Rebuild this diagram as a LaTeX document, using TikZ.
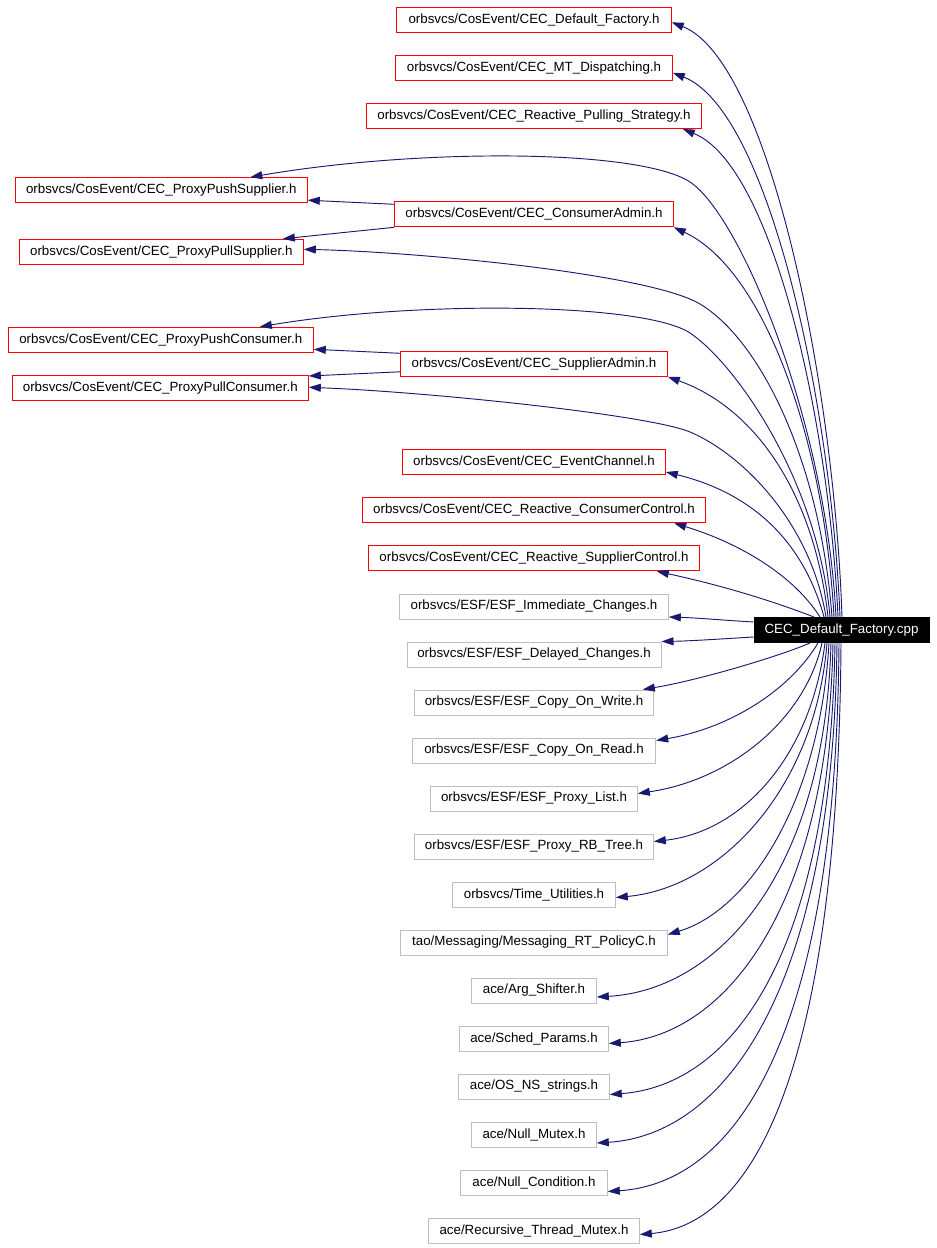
\documentclass[tikz,border=0pt]{standalone}
\usepackage{fontspec}
\setmainfont{Liberation Sans}
\usetikzlibrary{arrows.meta,calc}
\definecolor{edgeblue}{RGB}{25,25,112}
\definecolor{boxred}{RGB}{255,0,0}
\definecolor{boxgray}{RGB}{191,191,191}
\begin{document}
\begin{tikzpicture}[x=0.75pt,y=-0.75pt,
 box/.style={draw, line width=0.75pt, minimum height=18.75pt, inner sep=0pt, font=\fontsize{10}{12}\selectfont, anchor=center},
 redbox/.style={box, draw=boxred},
 graybox/.style={box, draw=boxgray},
 rootbox/.style={box, draw=black, fill=black, text=white},
 bw/.style={minimum width=#1*0.75pt},
 edge/.style={draw=edgeblue, line width=0.7pt, -{Triangle[length=9pt,width=6pt]}}]
\useasboundingbox (0,0) rectangle (936,1248);

\node[redbox,bw=274.6] (n1) at (534,19.8) {orbsvcs/CosEvent/CEC\_Default\_Factory.h};
\node[redbox,bw=276.6] (n2) at (534,67.8) {orbsvcs/CosEvent/CEC\_MT\_Dispatching.h};
\node[redbox,bw=334.6] (n3) at (534,116) {orbsvcs/CosEvent/CEC\_Reactive\_Pulling\_Strategy.h};
\node[redbox,bw=292] (pps) at (161.3,190.2) {orbsvcs/CosEvent/CEC\_ProxyPushSupplier.h};
\node[redbox,bw=278.6] (ca) at (534,214.3) {orbsvcs/CosEvent/CEC\_ConsumerAdmin.h};
\node[redbox,bw=284] (pls) at (161.3,251.8) {orbsvcs/CosEvent/CEC\_ProxyPullSupplier.h};
\node[redbox,bw=305] (ppc) at (160.8,339.8) {orbsvcs/CosEvent/CEC\_ProxyPushConsumer.h};
\node[redbox,bw=266.6] (sa) at (534,363.8) {orbsvcs/CosEvent/CEC\_SupplierAdmin.h};
\node[redbox,bw=296] (plc) at (160.3,388) {orbsvcs/CosEvent/CEC\_ProxyPullConsumer.h};
\node[redbox,bw=262.6] (n10) at (534,462) {orbsvcs/CosEvent/CEC\_EventChannel.h};
\node[redbox,bw=343.4] (n11) at (534,510.3) {orbsvcs/CosEvent/CEC\_Reactive\_ConsumerControl.h};
\node[redbox,bw=330.6] (n12) at (534,558.3) {orbsvcs/CosEvent/CEC\_Reactive\_SupplierControl.h};
\node[graybox,bw=268.6] (n13) at (534,606.5) {orbsvcs/ESF/ESF\_Immediate\_Changes.h};
\node[graybox,bw=254] (n14) at (534,654.5) {orbsvcs/ESF/ESF\_Delayed\_Changes.h};
\node[graybox,bw=238.6] (n15) at (534,702.5) {orbsvcs/ESF/ESF\_Copy\_On\_Write.h};
\node[graybox,bw=243.4] (n16) at (534,750.5) {orbsvcs/ESF/ESF\_Copy\_On\_Read.h};
\node[graybox,bw=206.6] (n17) at (534,798.5) {orbsvcs/ESF/ESF\_Proxy\_List.h};
\node[graybox,bw=238.6] (n18) at (534,846.5) {orbsvcs/ESF/ESF\_Proxy\_RB\_Tree.h};
\node[graybox,bw=162.6] (n19) at (534,894.5) {orbsvcs/Time\_Utilities.h};
\node[graybox,bw=266.6] (n20) at (534,942.5) {tao/Messaging/Messaging\_RT\_PolicyC.h};
\node[graybox,bw=124.6] (n21) at (534,990.5) {ace/Arg\_Shifter.h};
\node[graybox,bw=148.6] (n22) at (534,1038.5) {ace/Sched\_Params.h};
\node[graybox,bw=150.6] (n23) at (534,1086.5) {ace/OS\_NS\_strings.h};
\node[graybox,bw=124.6] (n24) at (534,1134.5) {ace/Null\_Mutex.h};
\node[graybox,bw=146.6] (n25) at (534,1182.5) {ace/Null\_Condition.h};
\node[graybox,bw=210.6] (n26) at (534,1230.5) {ace/Recursive\_Thread\_Mutex.h};
\node[rootbox,bw=175] (root) at (841.5,630) {CEC\_Default\_Factory.cpp};

% upper fan
\draw[edge] ($(root.north)+(0.5,0)$) .. controls (834,380) and (768,60) .. ($(n1.east)+(0,2.5)$);
\draw[edge] ($(root.north)+(-1.5,0)$) .. controls (831,400) and (768,110) .. ($(n2.east)+(0,5)$);
\draw[edge] ($(root.north)+(-3.5,0)$) .. controls (829,420) and (772,165) .. ($(n3.south east)+(-19,0)$);
\draw[edge] ($(root.north)+(-5.5,0)$) .. controls (826,420) and (740,215) .. (690,182) .. controls (640,149) and (420,148) .. ($(pps.north)+(89,0)$);
\draw[edge] ($(root.north)+(-7.5,0)$) .. controls (824,440) and (765,270) .. (ca.south east);
\draw[edge] ($(root.north)+(-9.5,0)$) .. controls (820,460) and (760,340) .. (700,304) .. controls (650,274) and (420,252) .. ($(pls.east)+(0,-2.5)$);
\draw[edge] ($(root.north)+(-11.5,0)$) .. controls (818,480) and (735,363) .. (690,333) .. controls (645,303) and (420,300) .. ($(ppc.north)+(99,0)$);
\draw[edge] ($(root.north)+(-13.5,0)$) .. controls (815,500) and (760,410) .. (sa.south east);
\draw[edge] ($(root.north)+(-15.5,0)$) .. controls (810,520) and (740,453) .. (690,432) .. controls (650,415) and (430,392) .. ($(plc.east)+(0,-0.7)$);
\draw[edge] ($(root.north)+(-17.5,0)$) .. controls (800,530) and (740,490) .. ($(n10.east)+(0,10)$);
\draw[edge] ($(root.north)+(-21.5,0)$) .. controls (790,570) and (730,540) .. ($(n11.south east)+(-32,0)$);
\draw[edge] ($(root.north)+(-27.5,0)$) .. controls (770,600) and (720,585) .. ($(n12.south east)+(-43,0)$);
\draw[edge] ($(root.west)+(0,-8)$) .. controls (720,620) and (700,618) .. ($(n13.east)+(0,10.5)$);
\draw[edge] ($(root.west)+(0,7)$) .. controls (720,639) and (690,641) .. (n14.north east);

% admin edges
\draw[edge] ($(ca.west)+(0,-10)$) -- ($(pps.east)+(0,10)$);
\draw[edge] (ca.south west) -- ($(pls.north east)+(-21,0)$);
\draw[edge] ($(sa.west)+(0,-10.5)$) -- ($(ppc.east)+(0,9.5)$);
\draw[edge] ($(sa.west)+(0,8)$) -- ($(plc.north east)+(0,1)$);

% lower fan
\draw[edge] ($(root.south)+(-31.5,0)$) .. controls (780,656) and (700,680) .. ($(n15.north east)+(-11,0)$);
\draw[edge] ($(root.south)+(-23.5,0)$) .. controls (790,690) and (730,728) .. ($(n16.east)+(0,-10)$);
\draw[edge] ($(root.south)+(-19.5,0)$) .. controls (805,720) and (730,780) .. ($(n17.east)+(0,-5)$);
\draw[edge] ($(root.south)+(-16.5,0)$) .. controls (810,760) and (740,832) .. ($(n18.east)+(0,-5)$);
\draw[edge] ($(root.south)+(-14.5,0)$) .. controls (815,790) and (720,888) .. ($(n19.east)+(0,3)$);
\draw[edge] ($(root.south)+(-12.5,0)$) .. controls (820,800) and (750,910) .. ($(n20.east)+(0,-8)$);
\draw[edge] ($(root.south)+(-10.5,0)$) .. controls (825,870) and (720,990) .. ($(n21.east)+(0,6.5)$);
\draw[edge] ($(root.south)+(-8.5,0)$) .. controls (828,900) and (730,1035) .. ($(n22.east)+(0,5)$);
\draw[edge] ($(root.south)+(-6.5,0)$) .. controls (830,950) and (735,1085) .. ($(n23.east)+(0,8)$);
\draw[edge] ($(root.south)+(-4.5,0)$) .. controls (833,990) and (725,1135) .. ($(n24.east)+(0,8.5)$);
\draw[edge] ($(root.south)+(-2.5,0)$) .. controls (836,1040) and (735,1183) .. ($(n25.east)+(0,9)$);
\draw[edge] ($(root.south)+(-0.5,0)$) .. controls (838,1080) and (750,1225) .. ($(n26.east)+(0,4)$);
\end{tikzpicture}
\end{document}
